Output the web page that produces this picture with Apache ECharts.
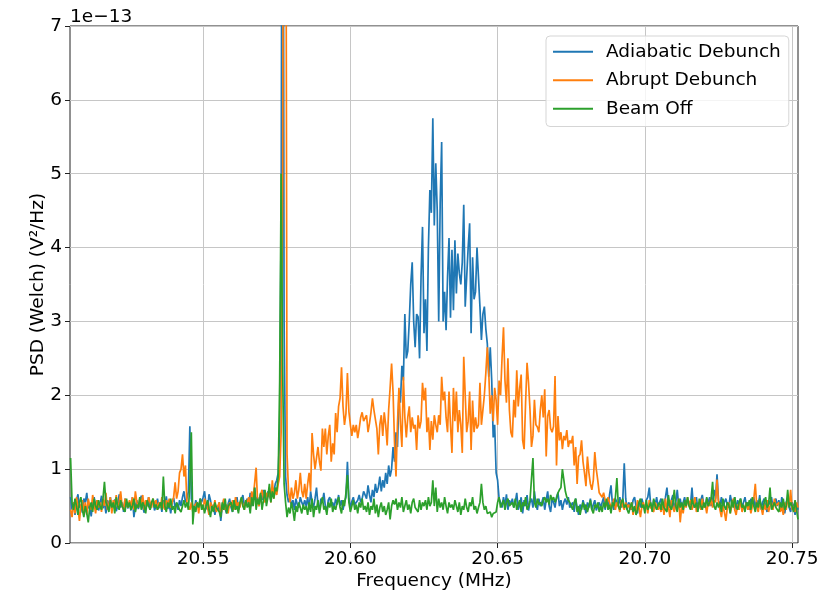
<!DOCTYPE html>
<html>
<head>
<meta charset="utf-8">
<script src="https://cdn.jsdelivr.net/npm/echarts@6/dist/echarts.min.js"></script>
<style>
  html, body { margin: 0; padding: 0; background: #fff; }
  #chart { width: 838px; height: 590px; }
</style>
</head>
<body>
<div id="chart"></div>
<script>
// Welch PSD, frequency bins every 0.5 kHz starting at 20.505 MHz; values in units of 1e-13 V^2/Hz
const freqStart = 20.505;
const freqStep = 0.0005;

const xTicks = [20.55, 20.60, 20.65, 20.70, 20.75];
const yTicks = [0, 1, 2, 3, 4, 5, 6, 7];
const seriesNames = ['Adiabatic Debunch', 'Abrupt Debunch', 'Beam Off'];

const adiabatic = [
  // 20.505
  0.62,0.45,0.55,0.38,0.58,0.66,0.48,0.52,0.41,0.6,0.55,0.68,0.47,0.5,0.36,0.55,0.62,0.49,0.58,0.44,
  // 20.515
  0.52,0.64,0.47,0.55,0.4,0.58,0.5,0.62,0.45,0.53,0.59,0.43,0.5,0.66,0.48,0.55,0.42,0.6,0.51,0.47,
  // 20.525
  0.56,0.44,0.62,0.35,0.5,0.58,0.46,0.53,0.64,0.49,0.41,0.57,0.5,0.62,0.45,0.53,0.58,0.44,0.5,0.6,
  // 20.535
  0.47,0.55,0.42,0.58,0.5,0.63,0.46,0.52,0.4,0.56,0.61,0.48,0.54,0.45,0.58,0.5,0.62,0.7,0.55,0.6,
  // 20.545
  0.7,1.58,0.6,0.5,0.45,0.58,0.52,0.48,0.6,0.55,0.62,0.7,0.5,0.45,0.66,0.58,0.44,0.52,0.38,0.5,
  // 20.555
  0.45,0.55,0.3,0.5,0.58,0.46,0.4,0.53,0.6,0.48,0.42,0.56,0.5,0.62,0.45,0.52,0.58,0.65,0.5,0.55,
  // 20.565
  0.6,0.52,0.68,0.5,0.58,0.75,0.55,0.62,0.5,0.66,0.58,0.72,0.6,0.55,0.7,0.64,0.58,0.75,0.68,0.8,
  // 20.575
  0.85,0.95,1.5,4.5,14,3.0,0.9,0.65,0.55,0.62,0.5,0.58,0.45,0.6,0.52,0.48,0.62,0.55,0.5,0.58,
  // 20.585
  0.5,0.62,0.45,0.7,0.55,0.48,0.6,0.75,0.52,0.45,0.6,0.55,0.68,0.5,0.42,0.58,0.62,0.5,0.55,0.48,
  // 20.595
  0.6,0.52,0.65,0.5,0.58,0.45,0.55,0.62,1.1,0.6,0.48,0.56,0.62,0.52,0.5,0.58,0.65,0.55,0.6,0.7,
  // 20.605
  0.7,0.6,0.78,0.65,0.55,0.72,0.62,0.8,0.68,0.75,0.9,0.7,0.85,0.75,0.95,0.8,1.05,0.9,1.0,1.3,
  // 20.615
  1.1,1.5,1.3,2.0,1.9,2.4,2.2,3.1,2.5,2.6,3.0,3.5,3.8,3.0,2.65,3.1,3.06,2.5,3.6,4.28,
  // 20.625
  2.84,3.3,2.6,4.0,4.78,4.47,5.75,4.3,5.14,4.5,3.0,4.6,5.43,3.0,3.4,2.88,3.6,4.13,3.05,3.97,
  // 20.635
  3.15,4.1,3.38,3.92,3.65,3.5,3.8,4.58,3.2,3.6,4.0,4.33,2.84,3.87,3.3,3.4,4.0,4.02,3.2,2.75,
  // 20.645
  3.1,3.2,2.9,2.7,2.25,2.65,2.2,1.43,1.6,0.95,0.85,0.6,0.55,0.48,0.62,0.5,0.66,0.45,0.58,0.52,
  // 20.655
  0.6,0.48,0.55,0.68,0.45,0.52,0.62,0.4,0.58,0.5,0.65,0.44,0.55,0.6,0.48,0.7,0.52,0.45,0.6,0.5,
  // 20.665
  0.55,0.62,0.45,0.58,0.7,0.5,0.42,0.6,0.55,0.48,0.62,0.68,0.5,0.58,0.45,0.55,0.6,0.52,0.62,0.48,
  // 20.675
  0.5,0.55,0.42,0.6,0.48,0.38,0.52,0.45,0.58,0.5,0.4,0.55,0.48,0.6,0.45,0.52,0.58,0.44,0.5,0.55,
  // 20.685
  0.48,0.55,0.62,0.45,0.58,0.5,0.65,0.78,0.52,0.45,0.6,0.55,0.5,0.62,0.48,0.58,1.08,0.6,0.45,0.55,
  // 20.695
  0.5,0.45,0.58,0.62,0.5,0.4,0.55,0.48,0.6,0.52,0.45,0.58,0.62,0.75,0.5,0.45,0.58,0.52,0.62,0.48,
  // 20.705
  0.55,0.6,0.45,0.5,0.62,0.75,0.52,0.48,0.58,0.65,0.45,0.55,0.72,0.5,0.6,0.48,0.55,0.62,0.5,0.58,
  // 20.715
  0.6,0.52,0.75,0.48,0.55,0.62,0.45,0.5,0.58,0.65,0.52,0.48,0.6,0.55,0.62,0.5,0.58,0.72,0.6,0.93,
  // 20.725
  0.58,0.5,0.62,0.45,0.55,0.6,0.52,0.48,0.65,0.55,0.5,0.62,0.45,0.58,0.52,0.6,0.48,0.55,0.62,0.5,
  // 20.735
  0.55,0.45,0.6,0.52,0.62,0.48,0.58,0.5,0.65,0.45,0.55,0.6,0.5,0.42,0.58,0.52,0.62,0.48,0.55,0.6,
  // 20.745
  0.5,0.58,0.45,0.62,0.52,0.4,0.55,0.6,0.48,0.42,0.55,0.5,0.38,0.52,0.45
];

const abrupt = [
  // 20.505
  0.45,0.35,0.55,0.4,0.62,0.48,0.3,0.5,0.58,0.42,0.55,0.38,0.6,0.5,0.45,0.65,0.52,0.4,0.58,0.48,
  // 20.515
  0.55,0.42,0.6,0.5,0.68,0.45,0.52,0.62,0.4,0.58,0.5,0.65,0.48,0.55,0.7,0.5,0.45,0.6,0.52,0.48,
  // 20.525
  0.58,0.5,0.62,0.45,0.7,0.55,0.48,0.6,0.52,0.65,0.45,0.58,0.5,0.62,0.55,0.48,0.6,0.52,0.58,0.45,
  // 20.535
  0.55,0.48,0.62,0.5,0.45,0.58,0.52,0.6,0.48,0.55,0.62,0.82,0.6,0.7,0.95,1.0,1.2,0.9,1.05,0.55,
  // 20.545
  0.5,0.45,0.55,0.42,0.5,0.48,0.55,0.4,0.58,0.5,0.45,0.6,0.52,0.48,0.38,0.55,0.5,0.45,0.58,0.42,
  // 20.555
  0.5,0.55,0.38,0.48,0.6,0.45,0.52,0.4,0.55,0.5,0.58,0.45,0.62,0.5,0.55,0.48,0.6,0.52,0.45,0.58,
  // 20.565
  0.55,0.62,0.48,0.7,0.6,0.58,1.02,0.55,0.5,0.65,0.72,0.6,0.55,0.68,0.62,0.75,0.55,0.85,0.6,0.72,
  // 20.575
  0.65,0.8,0.9,1.5,5.0,14,12,1.2,0.7,0.55,0.75,0.6,0.68,0.85,0.6,0.72,0.95,0.7,0.62,0.8,
  // 20.585
  0.6,0.8,0.95,0.7,1.49,1.2,1.0,1.0,1.3,1.1,0.98,1.55,1.3,1.55,1.2,1.45,1.6,1.1,1.35,1.2,
  // 20.595
  1.76,1.5,1.85,1.96,2.38,1.85,1.6,1.75,2.3,1.78,1.6,1.45,1.6,1.5,1.6,1.42,1.55,1.7,1.77,1.65,
  // 20.605
  1.65,1.73,1.5,1.62,1.77,1.96,1.8,1.8,1.55,1.2,1.6,1.73,1.45,1.77,1.6,1.32,1.8,2.1,2.43,2.04,
  // 20.615
  1.35,0.9,1.62,2.1,1.62,1.3,2.25,1.7,1.43,1.7,1.85,1.5,1.7,1.55,1.6,1.26,1.73,1.55,1.65,2.17,
  // 20.625
  1.93,2.1,1.5,1.7,1.26,1.65,1.4,1.73,1.6,1.5,1.73,1.6,2.25,1.93,2.05,1.7,1.5,2.05,1.6,1.22,
  // 20.635
  2.1,1.65,2.05,1.5,1.8,1.6,1.22,2.52,2.0,1.5,1.65,2.05,1.26,1.93,1.5,1.7,1.55,1.6,2.17,1.6,
  // 20.645
  1.8,2.0,2.3,2.65,2.3,1.75,2.0,1.65,2.1,1.93,1.6,2.2,2.0,2.5,2.92,2.2,1.9,2.5,1.8,1.5,
  // 20.655
  1.43,1.94,1.7,2.34,1.85,2.1,2.28,1.39,1.27,1.9,2.44,2.17,1.8,1.3,1.45,1.94,1.6,1.57,1.5,1.8,
  // 20.665
  2.0,1.7,2.08,1.17,1.72,1.8,1.55,1.5,1.58,2.26,1.05,1.72,1.39,1.5,1.27,1.45,1.39,1.53,1.3,1.39,
  // 20.675
  1.35,1.45,1.05,1.3,0.8,1.17,1.2,1.39,1.1,0.95,0.77,1.17,0.95,0.8,0.72,0.85,1.23,1.0,0.85,0.68,
  // 20.685
  0.7,0.62,0.68,0.58,0.5,0.62,0.55,0.48,0.52,0.6,0.45,0.55,0.5,0.42,0.58,0.5,0.45,0.55,0.48,0.52,
  // 20.695
  0.45,0.55,0.38,0.5,0.42,0.58,0.48,0.35,0.5,0.55,0.45,0.52,0.4,0.58,0.48,0.5,0.42,0.55,0.5,0.45,
  // 20.705
  0.5,0.42,0.55,0.38,0.6,0.45,0.5,0.35,0.58,0.48,0.42,0.55,0.45,0.6,0.28,0.5,0.4,0.55,0.48,0.62,
  // 20.715
  0.5,0.58,0.45,0.52,0.62,0.42,0.5,0.55,0.45,0.6,0.48,0.52,0.4,0.55,0.5,0.62,0.48,0.58,0.55,0.86,
  // 20.725
  0.55,0.45,0.35,0.5,0.42,0.3,0.48,0.55,0.4,0.5,0.6,0.45,0.38,0.52,0.45,0.58,0.42,0.5,0.45,0.55,
  // 20.735
  0.45,0.55,0.4,0.5,0.6,0.8,0.5,0.42,0.55,0.48,0.38,0.52,0.45,0.58,0.42,0.5,0.55,0.45,0.6,0.5,
  // 20.745
  0.48,0.55,0.42,0.5,0.38,0.55,0.45,0.6,0.5,0.72,0.45,0.5,0.42,0.55,0.48
];

const beamOff = [
  // 20.505
  1.15,0.55,0.45,0.6,0.5,0.38,0.55,0.62,0.45,0.35,0.5,0.4,0.28,0.48,0.55,0.42,0.6,0.5,0.45,0.58,
  // 20.515
  0.5,0.45,0.6,0.83,0.55,0.5,0.42,0.58,0.48,0.55,0.4,0.62,0.5,0.45,0.58,0.5,0.52,0.42,0.6,0.48,
  // 20.525
  0.55,0.45,0.5,0.6,0.42,0.52,0.48,0.62,0.45,0.55,0.5,0.4,0.58,0.5,0.45,0.55,0.6,0.48,0.52,0.45,
  // 20.535
  0.5,0.55,0.45,0.9,0.5,0.42,0.55,0.48,0.6,0.45,0.5,0.4,0.55,0.5,0.45,0.42,0.5,0.58,0.48,0.55,
  // 20.545
  0.45,0.8,1.5,0.25,0.5,0.42,0.55,0.48,0.6,0.45,0.52,0.4,0.5,0.58,0.45,0.35,0.5,0.42,0.55,0.48,
  // 20.555
  0.5,0.42,0.35,0.55,0.45,0.6,0.4,0.5,0.48,0.55,0.42,0.58,0.45,0.5,0.4,0.55,0.62,0.5,0.45,0.58,
  // 20.565
  0.48,0.55,0.4,0.62,0.5,0.75,0.45,0.6,0.52,0.68,0.45,0.58,0.72,0.5,0.62,0.8,0.55,0.7,0.6,0.75,
  // 20.575
  0.7,0.9,2.2,5.0,2.4,0.8,0.55,0.35,0.48,0.4,0.55,0.45,0.3,0.5,0.42,0.55,0.48,0.4,0.52,0.45,
  // 20.585
  0.5,0.38,0.55,0.42,0.6,0.35,0.5,0.45,0.58,0.4,0.52,0.62,0.45,0.5,0.38,0.55,0.48,0.6,0.42,0.5,
  // 20.595
  0.45,0.55,0.62,0.48,0.4,0.58,0.5,0.68,0.92,0.55,0.42,0.5,0.58,0.45,0.52,0.4,0.55,0.48,0.6,0.45,
  // 20.605
  0.5,0.42,0.55,0.38,0.5,0.45,0.6,0.4,0.52,0.35,0.48,0.55,0.42,0.5,0.38,0.45,0.55,0.32,0.5,0.58,
  // 20.615
  0.52,0.6,0.45,0.55,0.48,0.62,0.42,0.5,0.58,0.45,0.52,0.4,0.55,0.6,0.48,0.5,0.42,0.58,0.45,0.55,
  // 20.625
  0.5,0.58,0.45,0.62,0.5,0.55,0.85,0.5,0.75,0.42,0.6,0.48,0.55,0.45,0.62,0.5,0.4,0.55,0.48,0.52,
  // 20.635
  0.45,0.58,0.5,0.42,0.55,0.38,0.5,0.45,0.6,0.48,0.42,0.55,0.5,0.62,0.45,0.5,0.4,0.48,0.55,0.8,
  // 20.645
  0.55,0.45,0.5,0.4,0.38,0.42,0.35,0.4,0.38,0.42,0.55,0.62,0.48,0.5,0.58,0.45,0.55,0.6,0.5,0.48,
  // 20.655
  0.55,0.48,0.6,0.45,0.52,0.58,0.42,0.55,0.5,0.62,0.45,0.5,0.58,0.6,1.15,0.55,0.48,0.6,0.52,0.55,
  // 20.665
  0.5,0.58,0.62,0.55,0.6,0.52,0.65,0.58,0.62,0.55,0.6,0.68,0.72,0.75,1.0,0.85,0.7,0.62,0.58,0.55,
  // 20.675
  0.5,0.45,0.55,0.6,0.42,0.5,0.38,0.48,0.55,0.45,0.52,0.42,0.5,0.58,0.45,0.4,0.52,0.48,0.55,0.42,
  // 20.685
  0.5,0.42,0.55,0.48,0.6,0.45,0.52,0.4,0.55,0.5,0.62,0.88,0.5,0.45,0.55,0.6,0.48,0.52,0.45,0.4,
  // 20.695
  0.48,0.55,0.42,0.5,0.38,0.45,0.55,0.6,0.48,0.52,0.4,0.58,0.45,0.5,0.55,0.42,0.6,0.5,0.45,0.52,
  // 20.705
  0.55,0.45,0.6,0.48,0.5,0.42,0.65,0.5,0.45,0.55,0.72,0.5,0.42,0.6,0.48,0.55,0.45,0.58,0.5,0.62,
  // 20.715
  0.5,0.45,0.6,0.52,0.48,0.55,0.42,0.6,0.5,0.45,0.55,0.48,0.62,0.5,0.55,0.6,0.83,0.5,0.45,0.55,
  // 20.725
  0.48,0.55,0.42,0.6,0.5,0.45,0.55,0.52,0.4,0.58,0.48,0.62,0.5,0.45,0.55,0.6,0.48,0.52,0.42,0.55,
  // 20.735
  0.5,0.58,0.45,0.62,0.5,0.42,0.55,0.48,0.6,0.5,0.45,0.55,0.62,0.48,0.52,0.75,0.45,0.5,0.55,0.48,
  // 20.745
  0.5,0.42,0.55,0.48,0.6,0.45,0.5,0.72,0.48,0.55,0.5,0.42,0.58,0.45,0.32
];

const colors = ['#1f77b4', '#ff7f0e', '#2ca02c'];
const font = 'DejaVu Sans';
const fs = 18.5;

function toPairs(values) {
  return values.map((v, i) => [+(freqStart + i * freqStep).toFixed(4), v]);
}

const chart = echarts.init(document.getElementById('chart'), null, { renderer: 'canvas' });

const option = {
  animation: false,
  color: colors,
  textStyle: { fontFamily: font },
  grid: {
    left: 70, right: 40, top: 26, bottom: 47,
    outerBoundsMode: 'none',
    show: true, borderColor: '#222', borderWidth: 1, backgroundColor: 'transparent'
  },
  legend: {
    data: seriesNames,
    orient: 'vertical',
    left: 546,
    top: 36,
    icon: 'rect',
    itemWidth: 40,
    itemHeight: 2,
    itemGap: 7,
    padding: [5, 8, 7, 7],
    borderColor: '#d5d5d5',
    borderWidth: 1,
    borderRadius: 4,
    backgroundColor: 'rgba(255,255,255,0.8)',
    textStyle: { fontSize: fs, color: '#000', fontFamily: font, lineHeight: 21.5, padding: [0, 0, 0, 8] }
  },
  xAxis: {
    type: 'value',
    min: 20.5048,
    max: 20.752,
    name: 'Frequency (MHz)',
    nameLocation: 'middle',
    nameGap: 29,
    nameMoveOverlap: false,
    nameTextStyle: { fontSize: fs, color: '#000', fontFamily: font },
    axisLine: { show: false },
    axisTick: { show: true, length: 5, customValues: xTicks, lineStyle: { color: '#222' } },
    axisLabel: {
      customValues: xTicks,
      formatter: v => v.toFixed(2),
      fontSize: fs, color: '#000', margin: 7, fontFamily: font
    },
    splitLine: { show: true, lineStyle: { color: '#c6c6c6', width: 1 } }
  },
  yAxis: {
    type: 'value',
    min: 0,
    max: 7,
    interval: 1,
    name: 'PSD (Welch) (V²/Hz)',
    nameLocation: 'middle',
    nameGap: 22,
    nameMoveOverlap: false,
    nameTextStyle: { fontSize: fs, color: '#000', fontFamily: font },
    axisLine: { show: false },
    axisTick: { show: true, length: 5, customValues: yTicks, lineStyle: { color: '#222' } },
    axisLabel: { customValues: yTicks, fontSize: fs, color: '#000', margin: 8, fontFamily: font },
    splitLine: { show: true, lineStyle: { color: '#c6c6c6', width: 1 } }
  },
  graphic: [{
    type: 'text',
    left: 70,
    top: 8,
    style: { text: '1e\u221213', fontSize: fs, fill: '#000', fontFamily: font }
  }],
  series: [adiabatic, abrupt, beamOff].map((vals, k) => ({
    name: seriesNames[k],
    type: 'line',
    data: toPairs(vals),
    symbol: 'none',
    clip: true,
    lineStyle: { width: 1.7, color: colors[k] },
    itemStyle: { color: colors[k] },
    emphasis: { disabled: true },
    z: 2 + k
  }))
};

chart.setOption(option);
</script>
</body>
</html>
